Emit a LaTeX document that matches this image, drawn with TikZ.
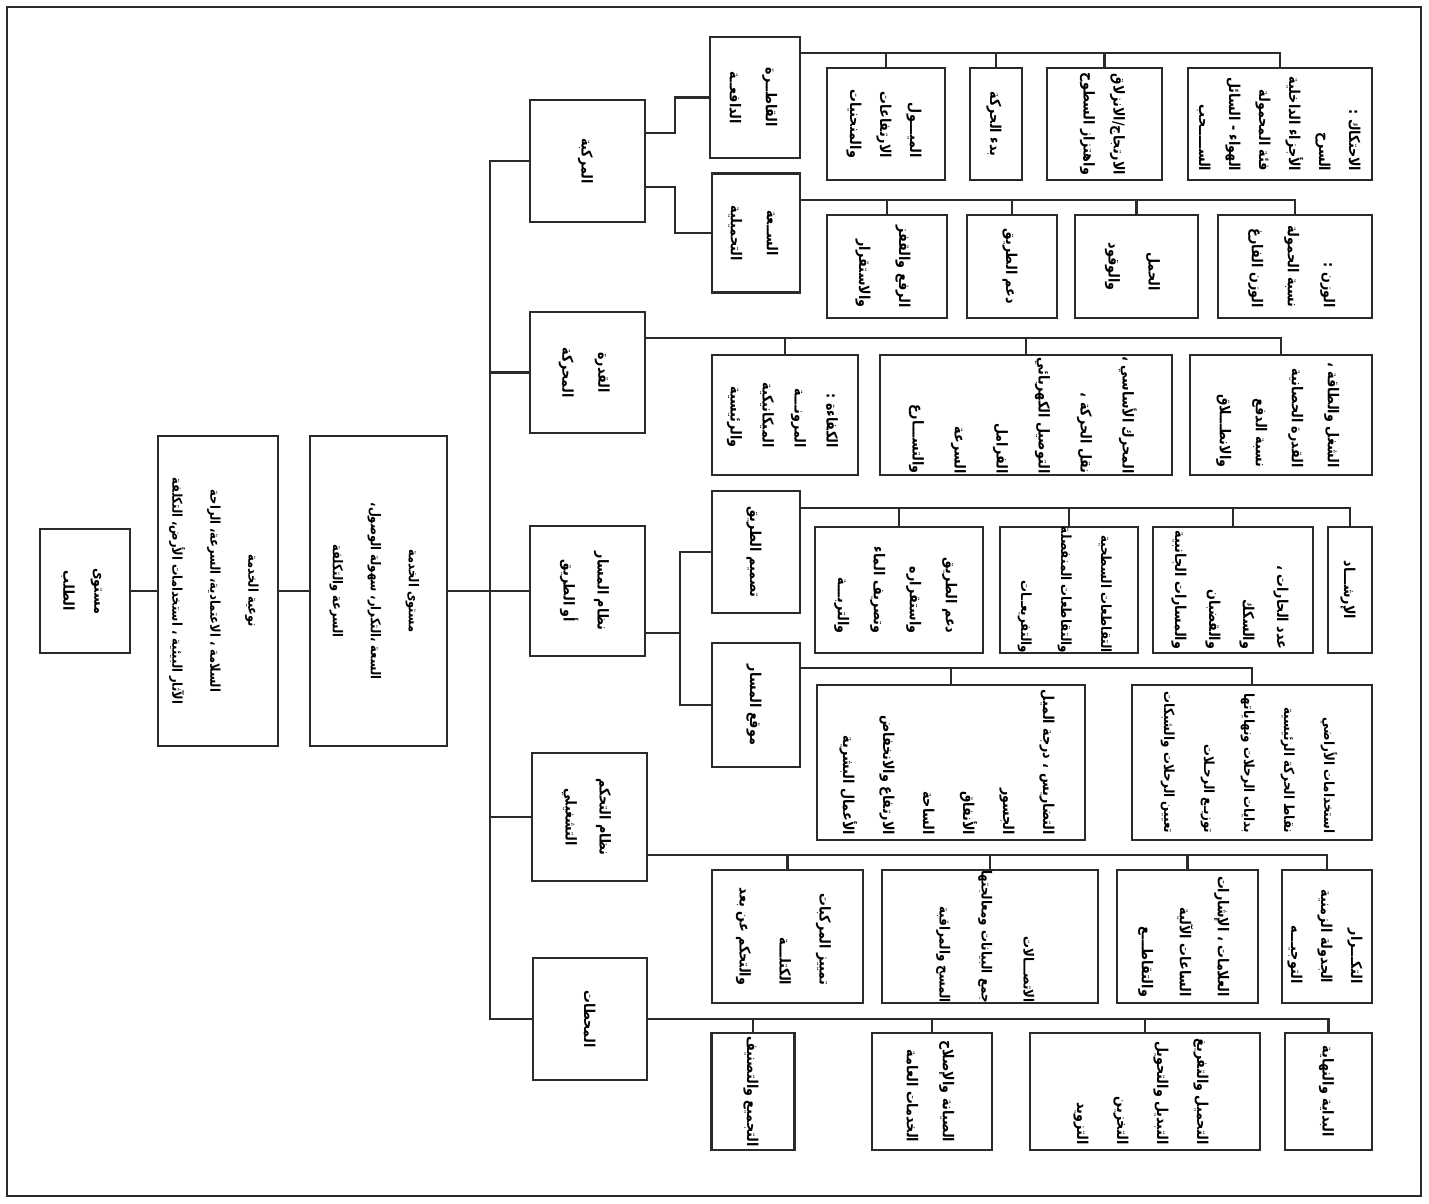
\documentclass[tikz,border=0pt]{standalone}
\usepackage{fontspec}
\usepackage{graphicx}
\newfontfamily\arabicfont[Script=Arabic,FakeStretch=0.85]{DejaVu Sans}
\TeXXeTstate=1
\definecolor{ink}{HTML}{2B2B2B}
\newcommand{\rl}[1]{\beginR #1\endR}
\newcommand{\vtxt}[2][c]{\rotatebox{-90}{\begin{tabular}{@{}#1@{}}#2\end{tabular}}}

\begin{document}
\begin{tikzpicture}[x=1pt,y=-1pt,
  box/.style={draw=ink, line width=2.2pt, inner sep=0pt,
    font=\arabicfont\bfseries\fontsize{15}{30}\selectfont},
  upper/.style={box, font=\arabicfont\bfseries\fontsize{13.5}{38}\selectfont},
  link/.style={draw=ink, line width=2.8pt}]
\useasboundingbox (0,0) rectangle (1429,1203);
\draw[ink, line width=1.4pt] (7,7) rectangle (1421,1196);

% main chain
\node[box, minimum width=90, minimum height=124, font=\arabicfont\bfseries\fontsize{15}{31}\selectfont] (demand) at (85,591) {\vtxt{\rl{مستوى}\\\rl{الطلب}}};
\node[upper, minimum width=120, minimum height=310] (quality) at (218,591) {\vtxt{\rl{نوعية الخدمة}\\\rl{السلامة ، الاعتمادية، السرعة، الراحة}\\\rl{الآثار البيئية ، استخدامات الأرض، التكلفة}}};
\node[upper, minimum width=137, minimum height=310] (service) at (378.5,591) {\vtxt{\rl{مستوى الخدمة}\\\rl{السعة ،التكرار، سهولة الوصول،}\\\rl{السرعة والتكلفة}}};

% system components
\node[box, minimum width=115, minimum height=122] (vehicle) at (587.5,161) {\vtxt{\rl{المركبة}}};
\node[box, minimum width=115, minimum height=121, font=\arabicfont\bfseries\fontsize{15}{36}\selectfont] (power) at (587.5,372.5) {\vtxt{\rl{القدرة}\\\rl{المحركة}}};
\node[box, minimum width=115, minimum height=130, font=\arabicfont\bfseries\fontsize{15}{34}\selectfont] (way) at (587.5,591) {\vtxt{\rl{نظام المسار}\\\rl{أو الطريق}}};
\node[box, minimum width=115, minimum height=128, font=\arabicfont\bfseries\fontsize{15}{34}\selectfont] (control) at (589.5,817) {\vtxt{\rl{نظام التحكم}\\\rl{التشغيلي}}};
\node[box, minimum width=114, minimum height=122] (terminals) at (590,1019) {\vtxt{\rl{المحطات}}};

\node[box, minimum width=90, minimum height=121, font=\arabicfont\bfseries\fontsize{15}{36}\selectfont] (propel) at (755,97.5) {\vtxt{\rl{القاطــرة}\\\rl{الدافعــة}}};
\node[box, minimum width=88, minimum height=119, font=\arabicfont\bfseries\fontsize{15}{36}\selectfont] (capacity) at (756,233) {\vtxt{\rl{الســعة}\\\rl{التحميلية}}};
\node[box, minimum width=88, minimum height=122] (design) at (756,552) {\vtxt{\rl{تصميم الطريق}}};
\node[box, minimum width=88, minimum height=124] (location) at (756,705) {\vtxt{\rl{موقع المسار}}};

% leaves
\node[box, minimum width=118, minimum height=112] (l1a) at (886,124) {\vtxt[r]{\rl{الميـــول}\\\rl{الارتفاعات}\\\rl{والمنحنيات}}};
\node[box, minimum width=52, minimum height=112] (l1b) at (996,124) {\vtxt[r]{\rl{بدء الحركة}}};
\node[box, minimum width=115, minimum height=112] (l1c) at (1104.5,124) {\vtxt[r]{\rl{الارتجاج/الانزلاق}\\\rl{واهتزاز السطوح}}};
\node[box, minimum width=184, minimum height=112] (l1d) at (1280,124) {\vtxt[r]{\rl{الاحتكاك :}\\\rl{السرح}\\\rl{الأجزاء الداخلية}\\\rl{فئة المحمولة}\\\rl{الهواء - السائل}\\\rl{الســـــحب}}};

\node[box, minimum width=120, minimum height=103, font=\arabicfont\bfseries\fontsize{15}{40}\selectfont] (l2a) at (887,266.5) {\vtxt[r]{\rl{الرفع والقفز}\\\rl{والاستقرار}}};
\node[box, minimum width=90, minimum height=103] (l2b) at (1012,266.5) {\vtxt[r]{\rl{دعم الطريق}}};
\node[box, minimum width=123, minimum height=103, font=\arabicfont\bfseries\fontsize{15}{40}\selectfont] (l2c) at (1136.5,266.5) {\vtxt[r]{\rl{الحمل}\\\rl{والوقود}}};
\node[box, minimum width=154, minimum height=103, font=\arabicfont\bfseries\fontsize{15}{36}\selectfont] (l2d) at (1295,266.5) {\vtxt[r]{\rl{الوزن :}\\\rl{نسبة الحمولة}\\\rl{الوزن الفارغ}}};

\node[box, minimum width=146, minimum height=120, font=\arabicfont\bfseries\fontsize{15}{32}\selectfont] (l3a) at (785,415) {\vtxt[r]{\rl{الكفاءة :}\\\rl{المرونـــة}\\\rl{الميكانيكية}\\\rl{والرئيسية}}};
\node[box, minimum width=292, minimum height=120, font=\arabicfont\bfseries\fontsize{15}{42}\selectfont] (l3b) at (1026,415) {\vtxt[r]{\rl{المحرك الأساسي ،}\\\rl{نقل الحركة ،}\\\rl{التوصيل الكهربائي}\\\rl{الفرامل}\\\rl{السرعة}\\\rl{والتســـارع}}};
\node[box, minimum width=182, minimum height=120, font=\arabicfont\bfseries\fontsize{15}{36}\selectfont] (l3c) at (1281,415) {\vtxt[r]{\rl{الشغل والطاقة ،}\\\rl{القدرة الحصانية}\\\rl{نسبة الدفع}\\\rl{والانطـــلاق}}};

\node[box, minimum width=168, minimum height=126, font=\arabicfont\bfseries\fontsize{15}{36}\selectfont] (l4a) at (899,590) {\vtxt[r]{\rl{دعم الطريق}\\\rl{واستقراره}\\\rl{وتصريف الماء}\\\rl{والتربـــة}}};
\node[box, minimum width=138, minimum height=126, font=\arabicfont\bfseries\fontsize{14}{40}\selectfont] (l4b) at (1069,590) {\vtxt[r]{\rl{التقاطعات السطحية}\\\rl{والتقاطعات المنفصلة}\\\rl{والتفريعــات}}};
\node[box, minimum width=160, minimum height=126, font=\arabicfont\bfseries\fontsize{15}{34}\selectfont] (l4c) at (1233,590) {\vtxt[r]{\rl{عدد الحارات ،}\\\rl{والسكك}\\\rl{والقضبان}\\\rl{والمسارات الجانبية}}};
\node[box, minimum width=44, minimum height=126] (l4d) at (1350,590) {\vtxt[r]{\rl{الإرشـــاد}}};

\node[box, minimum width=268, minimum height=155, font=\arabicfont\bfseries\fontsize{15}{40}\selectfont] (l5a) at (951,762.5) {\vtxt[r]{\rl{التضاريس ، درجة الميل}\\\rl{الجسور}\\\rl{الأنفاق}\\\rl{الساحة}\\\rl{الارتفاع والانخفاض}\\\rl{الأعمال البشرية}}};
\node[box, minimum width=240, minimum height=155, font=\arabicfont\bfseries\fontsize{14}{40}\selectfont] (l5b) at (1252,762.5) {\vtxt[r]{\rl{استخدامات الأراضي}\\\rl{نقاط الحركة الرئيسية}\\\rl{بدايات الرحلات ونهاياتها}\\\rl{توزيـع الرحـلات}\\\rl{تعيين الرحلات والشبكات}}};

\node[box, minimum width=151, minimum height=133, font=\arabicfont\bfseries\fontsize{15}{40}\selectfont] (l6a) at (787.5,936.5) {\vtxt[r]{\rl{تمييز المركبات}\\\rl{الكتلـــة}\\\rl{والتحكم عن بعد}}};
\node[box, minimum width=216, minimum height=133, font=\arabicfont\bfseries\fontsize{14}{42}\selectfont] (l6b) at (990,936.5) {\vtxt[r]{\rl{الاتصـــالات}\\\rl{جمع البيانات ومعالجتها}\\\rl{المسح والمراقبة}}};
\node[box, minimum width=141, minimum height=133, font=\arabicfont\bfseries\fontsize{15}{38}\selectfont] (l6c) at (1187.5,936.5) {\vtxt[r]{\rl{العلامات ، الإشارات}\\\rl{الساعات الآلية}\\\rl{والتقاطـــع}}};
\node[box, minimum width=90, minimum height=133] (l6d) at (1327,936.5) {\vtxt[r]{\rl{التكـــرار}\\\rl{الجدولة الزمنية}\\\rl{التوجيـــه}}};

\node[box, minimum width=83, minimum height=117] (l7a) at (753,1091.5) {\vtxt[r]{\rl{التجميع والتصنيف}}};
\node[box, minimum width=120, minimum height=117, font=\arabicfont\bfseries\fontsize{15}{36}\selectfont] (l7b) at (932,1091.5) {\vtxt[r]{\rl{الصيانة والإصلاح}\\\rl{الخدمات العامة}}};
\node[box, minimum width=230, minimum height=117, font=\arabicfont\bfseries\fontsize{15}{40}\selectfont] (l7c) at (1145,1091.5) {\vtxt[r]{\rl{التحميل والتفريغ}\\\rl{التبديل والتحويل}\\\rl{التخزين}\\\rl{التزويد}}};
\node[box, minimum width=87, minimum height=117] (l7d) at (1328.5,1091.5) {\vtxt[r]{\rl{البداية والنهاية}}};

% connectors
\draw[link] (demand) -- (quality);
\draw[link] (quality) -- (service);
\draw[link] (service) -- (way);
\coordinate (trunk) at (490,0);
\draw[link] (vehicle.west) -- (vehicle.west -| trunk) -- (terminals.west -| trunk) -- (terminals.west);
\draw[link] (power.west) -- (power.west -| trunk);
\draw[link] (control.west) -- (control.west -| trunk);

\coordinate (vjog) at (675,0);
\draw[link] ([yshift=28pt]vehicle.east) -| (vjog |- propel.west) -- (propel.west);
\draw[link] ([yshift=-26pt]vehicle.east) -| (vjog |- capacity.west) -- (capacity.west);
\coordinate (wjog) at (680,0);
\draw[link] ([yshift=-42pt]way.east) -- ([yshift=-42pt]way.east -| wjog);
\draw[link] (design.west) -- (design.west -| wjog) -- (wjog |- location.west) -- (location.west);

% buses to the leaves
\coordinate (bus1) at ([yshift=44.5pt]propel.east);
\draw[link] (bus1) -| (l1d.north);
\foreach \n in {l1a,l1b,l1c} \draw[link] (\n.north) -- (\n.north |- bus1);
\coordinate (bus2) at ([yshift=33pt]capacity.east);
\draw[link] (bus2) -| (l2d.north);
\foreach \n in {l2a,l2b,l2c} \draw[link] (\n.north) -- (\n.north |- bus2);
\coordinate (bus3) at ([yshift=34.5pt]power.east);
\draw[link] (bus3) -| (l3c.north);
\foreach \n in {l3a,l3b} \draw[link] (\n.north) -- (\n.north |- bus3);
\coordinate (bus4) at ([yshift=44pt]design.east);
\draw[link] (bus4) -| (l4d.north);
\foreach \n in {l4a,l4b,l4c} \draw[link] (\n.north) -- (\n.north |- bus4);
\coordinate (bus5) at ([yshift=37pt]location.east);
\draw[link] (bus5) -| (l5b.north);
\draw[link] (l5a.north) -- (l5a.north |- bus5);
\coordinate (bus6) at ([yshift=-38pt]control.east);
\draw[link] (bus6) -| (l6d.north);
\foreach \n in {l6a,l6b,l6c} \draw[link] (\n.north) -- (\n.north |- bus6);
\coordinate (bus7) at (terminals.east);
\draw[link] (bus7) -| (l7d.north);
\foreach \n in {l7a,l7b,l7c} \draw[link] (\n.north) -- (\n.north |- bus7);
\end{tikzpicture}
\end{document}
